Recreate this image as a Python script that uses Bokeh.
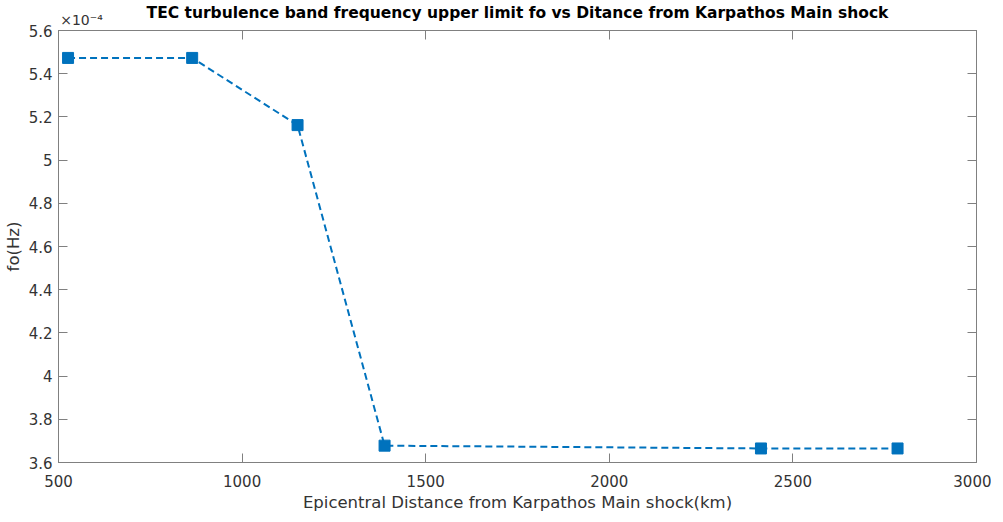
from bokeh.plotting import figure
from bokeh.models import (LinearAxis, FixedTicker, CustomJSTickFormatter,
                          Range1d, ColumnDataSource)
from bokeh.embed import file_html
from bokeh.resources import INLINE

# ---- data ----
distance_km = [526, 864, 1151, 1388, 2413, 2785]
fo_hz = [5.473e-4, 5.473e-4, 5.162e-4, 3.678e-4, 3.665e-4, 3.665e-4]
x_ticks = [500, 1000, 1500, 2000, 2500, 3000]
y_ticks = [3.6e-4, 3.8e-4, 4.0e-4, 4.2e-4, 4.4e-4, 4.6e-4, 4.8e-4, 5.0e-4, 5.2e-4, 5.4e-4, 5.6e-4]
title_text = "TEC turbulence band frequency upper limit fo vs Ditance from Karpathos Main shock"
x_label = "Epicentral Distance from Karpathos Main shock(km)"
y_label = "fo(Hz)"
exponent_text = "×10⁻⁴"

BLUE = "#0072BD"
AXC = "#808080"
TXT = "#333333"
FONT = "DejaVu Sans"

FW, FH = 918, 432
X0, X1 = 500, 3000

p = figure(frame_width=FW, frame_height=FH, output_backend="svg", toolbar_location=None,
           x_range=Range1d(X0, X1), y_range=Range1d(3.6e-4, 5.6e-4),
           min_border_left=53, min_border_right=15, min_border_top=0, min_border_bottom=0)

p.grid.visible = False
p.outline_line_color = AXC
p.background_fill_color = "white"
p.border_fill_color = "white"

xt = FixedTicker(ticks=x_ticks)
yt = FixedTicker(ticks=y_ticks)
yfmt = CustomJSTickFormatter(code="return String(Number((tick*1e4).toFixed(1)));")

for ax in (p.xaxis[0], p.yaxis[0]):
    ax.axis_line_color = AXC
    ax.major_tick_line_color = AXC
    ax.major_tick_in = 9
    ax.major_tick_out = 0
    ax.minor_tick_line_color = None
    ax.major_label_text_font = FONT
    ax.major_label_text_font_size = "15px"
    ax.major_label_text_color = TXT
    ax.axis_label_text_font = FONT
    ax.axis_label_text_font_size = "16.5px"
    ax.axis_label_text_font_style = "normal"
    ax.axis_label_text_color = TXT

p.xaxis[0].ticker = xt
p.yaxis[0].ticker = yt
p.yaxis[0].formatter = yfmt
p.xaxis[0].axis_label = x_label
p.yaxis[0].axis_label = y_label
p.xaxis[0].major_label_standoff = 12
p.xaxis[0].axis_label_standoff = 3
p.yaxis[0].major_label_standoff = 6
p.yaxis[0].axis_label_standoff = 3

for loc, tk in (("above", xt), ("right", yt)):
    a = LinearAxis(ticker=tk, axis_line_color=AXC, major_tick_line_color=AXC,
                   major_tick_in=9, major_tick_out=0, minor_tick_line_color=None,
                   major_label_text_font_size="0px", major_label_standoff=0,
                   major_label_text_alpha=0)
    p.add_layout(a, loc)

# top band: y-axis exponent (as a tick label) and the chart title (as the band's label)
exp_half_px = 23
exp_x = X0 + exp_half_px * (X1 - X0) / FW
ea = LinearAxis(ticker=FixedTicker(ticks=[exp_x]), major_label_overrides={exp_x: exponent_text},
                axis_line_color=None, major_tick_line_color=None, minor_tick_line_color=None,
                major_tick_in=0, major_tick_out=0, major_label_standoff=3,
                major_label_text_font=FONT, major_label_text_font_size="14px",
                major_label_text_color=TXT,
                axis_label=title_text, axis_label_standoff=-13,
                axis_label_text_font=FONT, axis_label_text_font_size="15.5px",
                axis_label_text_font_style="bold", axis_label_text_color="#000000")
p.add_layout(ea, "above")

src = ColumnDataSource(dict(x=distance_km, y=fo_hz))
p.line("x", "y", source=src, line_color=BLUE, line_width=2, line_dash="7 4")
p.scatter("x", "y", source=src, marker="square", size=11, fill_color=BLUE, line_color=BLUE)

open("out.html", "w").write(file_html(p, INLINE))
